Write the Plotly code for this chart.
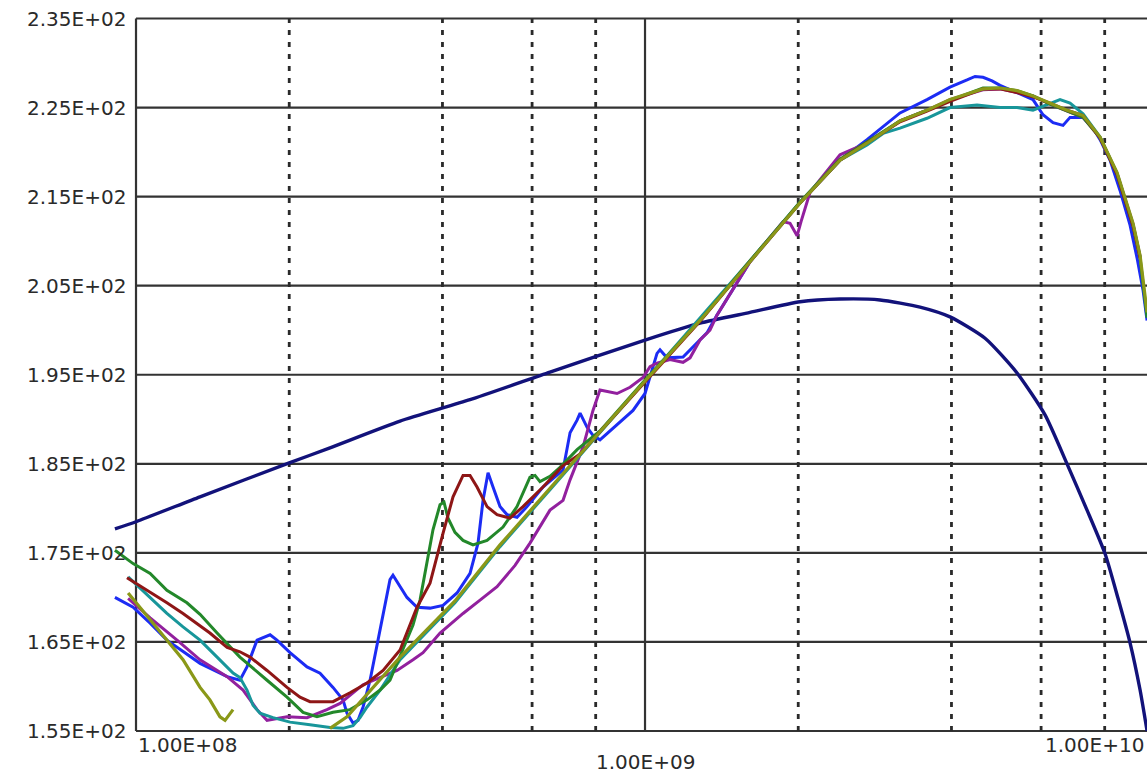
import math
import plotly.graph_objects as go

# ---- axis ticks -----------------------------------------------------------
Y_TICKS = [155, 165, 175, 185, 195, 205, 215, 225, 235]
Y_TICK_TEXT = ["1.55E+02", "1.65E+02", "1.75E+02", "1.85E+02", "1.95E+02",
               "2.05E+02", "2.15E+02", "2.25E+02", "2.35E+02"]
X_DECADES = [1e8, 1e9, 1e10]
X_DECADE_TEXT = ["1.00E+08", "1.00E+09", "1.00E+10"]
X_SUBGRID = [2e8, 4e8, 6e8, 8e8, 2e9, 4e9, 6e9, 8e9]

# ---- series (frequency in MHz, value) -------------------------------------
navy_f = [90.9, 100, 133.6, 200, 240.5, 330.2, 453.1, 650.6, 1000, 1282.6, 1608.0,
          2016.9, 2416.0, 2895, 3469.6, 3973.7, 4656, 5381.4, 6107.8, 6746.8,
          7385.9, 8013.1, 8497, 8972.2, 9389, 9690.3]
navy_v = [177.7, 178.5, 181.3, 185.1, 186.8, 189.8, 192.2, 195.3, 198.9, 200.8, 202.0,
          203.2, 203.5, 203.4, 202.6, 201.5, 199.1, 195.2, 190.5, 185.0,
          179.8, 174.9, 169.9, 164.9, 159.6, 155.0]

blue_f = [90.9, 98.7, 106.6, 115.0, 133.6, 151.0, 160.0, 165.2, 172.9, 183.4, 189.2,
          200.7, 216.8, 229.9, 243.8, 255.1, 259.7, 266.9, 273.0, 279.3, 288.3,
          301.7, 315.5, 319.8, 330.2, 340.7, 356.5, 378.1, 401.0, 427.2, 453.1,
          469.8, 480.6, 491.6, 502.8, 518.9, 535.6, 560.4, 586.4, 630.3, 690.2,
          712.4, 735.4, 745.5, 769.5, 790.3, 815.7, 881.0, 947.2, 1000, 1055.8,
          1070.2, 1104.6, 1187.7, 1323.3, 1384.7, 1608, 2016.9, 2416, 2729.8,
          3169.6, 3580.9, 3973.7, 4292.1, 4450.2, 4613.2, 4805.8, 4983, 5381.4,
          5783.6, 6050.9, 6332.6, 6625.2, 6839.1, 7252.8, 7588.6, 7834.3, 8195.1,
          8574.3, 8972.2, 9262.2, 9514.7, 9690.3]
blue_v = [170.0, 168.9, 167.1, 165.2, 162.6, 161.1, 160.7, 162.2, 165.2, 165.8, 165.2,
          163.8, 162.2, 161.5, 159.9, 158.5, 157.0, 155.9, 156.2, 157.7, 160.7,
          166.3, 172.0, 172.5, 171.2, 170.0, 168.9, 168.8, 169.1, 170.5, 172.7,
          176.1, 180.9, 184.0, 182.4, 180.2, 179.3, 179.0, 180.2, 182.4, 184.3,
          188.5, 189.9, 190.7, 189.1, 188.2, 187.7, 189.4, 191.0, 192.9, 197.4,
          197.8, 196.9, 197.0, 199.7, 201.7, 207.7, 214.3, 219.1, 221.4,
          224.4, 225.9, 227.3, 228.1, 228.5, 228.4, 228.0, 227.5, 226.7,
          225.9, 224.2, 223.3, 223.0, 223.9, 223.9, 222.7, 221.4, 219.1,
          215.7, 211.8, 208.1, 204.5, 201.1]

purple_f = [96.5, 106.6, 120.4, 133.6, 151.0, 162.3, 172.9, 180.9, 198.0, 216.8, 237.2,
            251.7, 279.3, 301.7, 325.7, 350.1, 366.3, 395.6, 439.0, 474.1, 512.0,
            555.4, 594.3, 650.6, 690.2, 712.4, 755.7, 790.3, 815.7, 881.0, 934.4,
            991.0, 1022.9, 1055.8, 1119.7, 1187.7, 1225.9, 1282.6, 1341.5, 1384.7,
            1608, 1866.9, 1927.1, 1989.6, 2025.5, 2109.6, 2416, 2527.7, 2729.8,
            3169.6, 3580.9, 3973.7, 4613.2, 4983, 5381.4, 5783.6, 6246.6, 6746.8,
            7252.8, 7834.3, 8460.2, 9095.1, 9389]
purple_v = [169.9, 167.7, 165.2, 163.0, 161.1, 159.6, 157.4, 156.2, 156.6, 156.5, 157.4,
            158.1, 160.2, 161.0, 161.8, 163.0, 163.8, 166.0, 168.2, 169.7, 171.2,
            173.6, 176.1, 179.8, 180.9, 183.2, 186.9, 191.0, 193.3, 192.9, 193.6,
            194.7, 195.9, 196.3, 196.7, 196.4, 196.9, 198.9, 200.0, 201.7,
            207.7, 212.2, 212.0, 210.6, 212.2, 215.5, 219.7, 220.2, 221.0,
            223.5, 224.7, 225.9, 227.0, 227.1, 226.7, 226.3, 225.4, 224.6,
            223.9, 221.6, 217.6, 211.9, 208.3]

teal_f = [96.5, 106.6, 115.0, 123.7, 133.6, 144.3, 155.1, 160.0, 165.2, 169.8, 175.2,
          185.9, 200.7, 219.7, 240.5, 255.1, 266.9, 275.5, 284.4, 301.7, 330.2,
          423.3, 518.9, 650.6, 815.7, 1000, 1282.6, 1608, 2016.9, 2416, 2729.8,
          2935.1, 3169.6, 3580.9, 3973.7, 4490.4, 4983, 5381.4, 5783.6, 6246.6,
          6536.6, 6839.1, 7252.8, 7834.3, 8460.2, 9095.1, 9389]
teal_v = [172.3, 170.0, 168.2, 166.7, 165.2, 163.3, 161.5, 161.0, 159.6, 157.9, 157.0,
          156.5, 156.0, 155.7, 155.4, 155.3, 155.6, 156.5, 157.7, 159.6, 163.0,
          169.4, 175.7, 182.1, 188.5, 194.3, 201.3, 207.8, 214.4, 219.1, 220.8,
          222.1, 222.7, 223.8, 225.0, 225.3, 225.0, 225.0, 224.7, 225.5,
          225.9, 225.5, 224.3, 221.7, 217.6, 211.8, 208.2]

green_f = [90.9, 98.7, 106.6, 115.0, 125.9, 133.6, 144.3, 160.0, 180.9, 198.0, 212.9,
           226.8, 243.8, 263.3, 284.4, 301.7, 315.5, 330.2, 350.1, 361.4, 373.0,
           383.2, 395.6, 402.8, 410.2, 423.3, 439.0, 459.3, 489.4, 526.0, 560.4,
           594.3, 608.0, 621.8, 650.6, 680.8, 735.4, 815.7, 1000, 1282.6, 1608,
           2016.9, 2416, 2729.8, 3169.6, 3580.9, 3973.7, 4613.2, 4983, 5381.4,
           5783.6, 6246.6, 6746.8, 7252.8, 7834.3, 8460.2, 9095.1, 9389, 9690.3]
green_v = [175.3, 173.8, 172.7, 170.8, 169.4, 168.1, 166.0, 163.3, 160.7, 158.8, 157.1,
           156.6, 157.1, 157.4, 158.5, 159.6, 160.7, 163.5, 166.9, 169.7, 173.8,
           177.6, 180.4, 180.7, 178.9, 177.3, 176.4, 175.9, 176.4, 177.9, 180.2,
           183.5, 183.7, 183.0, 183.6, 184.6, 186.6, 188.7, 194.4, 201.1, 207.8,
           214.4, 219.2, 221.1, 223.5, 224.7, 225.8, 227.2, 227.2, 226.9,
           226.3, 225.4, 224.6, 223.9, 221.6, 217.5, 211.7, 208.1, 201.4]

red_f = [96.0, 106.6, 115.0, 123.7, 139.7, 151.0, 160.0, 167.5, 180.9, 198.0, 210.0,
         219.7, 243.8, 263.3, 284.4, 305.8, 330.2, 356.5, 378.1, 401.0, 419.6,
         439.0, 453.1, 467.7, 489.4, 512.0, 543.0, 575.8, 630.3, 690.2, 745.5,
         815.7, 1000, 1282.6, 1608, 2016.9, 2416, 2729.8, 3169.6, 3580.9, 3973.7,
         4613.2, 4983, 5381.4, 5783.6, 6246.6, 6746.8, 7252.8, 7834.3, 8460.2,
         9095.1, 9389]
red_v = [172.2, 170.6, 169.4, 168.2, 166.0, 164.4, 163.9, 163.3, 161.8, 159.9, 158.8,
         158.3, 158.3, 159.3, 160.4, 161.8, 164.1, 168.9, 171.6, 177.2, 181.3,
         183.7, 183.7, 182.4, 180.2, 179.3, 178.9, 180.2, 182.4, 184.8, 186.1,
         188.6, 194.2, 201.0, 207.7, 214.3, 219.1, 221.0, 223.4, 224.6, 225.7,
         227.1, 227.1, 226.7, 226.2, 225.5, 224.7, 224.1, 221.6, 217.5,
         211.7, 208.1]

olive_f = [96.5, 106.6, 115.0, 123.7, 133.6, 139.7, 146.2, 149.6, 155.1, None,
           240.5, 259.7, 330.2, 423.3, 518.9, 650.6, 815.7, 1000, 1282.6, 1608,
           2016.9, 2416, 2729.8, 3169.6, 3580.9, 3973.7, 4613.2, 4983, 5381.4,
           5783.6, 6246.6, 6746.8, 7252.8, 7834.3, 8460.2, 9095.1, 9389, 9690.3]
olive_v = [170.5, 167.5, 165.2, 163.0, 159.9, 158.5, 156.6, 156.2, 157.4, None,
           155.3, 156.6, 163.3, 169.6, 175.9, 182.3, 188.6, 194.3, 201.1, 207.7,
           214.3, 219.1, 221.0, 223.5, 224.7, 225.9, 227.1, 227.2, 226.9,
           226.3, 225.5, 224.7, 224.1, 221.7, 217.7, 212.0, 208.4, 202.0]

# (freq, value, colour, width, shape)
SERIES = [
    (navy_f, navy_v, "#12127a", 3.4, "spline"),
    (blue_f, blue_v, "#1c2cf4", 3.0, "linear"),
    (purple_f, purple_v, "#92209e", 3.0, "linear"),
    (teal_f, teal_v, "#18969a", 3.0, "linear"),
    (green_f, green_v, "#23882a", 3.0, "linear"),
    (red_f, red_v, "#8e1616", 3.0, "linear"),
    (olive_f, olive_v, "#8a9818", 3.2, "linear"),
]

GRID = "#333333"
FONT = dict(family="DejaVu Sans", size=20, color="#2a2a2a")

fig = go.Figure()


def mhz(values):
    return [None if v is None else v * 1e6 for v in values]


# Horizontal rules (including top and bottom frame)
hx, hy = [], []
for t in Y_TICKS:
    hx += [X_DECADES[0], 2e10, None]
    hy += [t, t, None]
fig.add_trace(go.Scatter(x=hx, y=hy, mode="lines",
                         line=dict(color=GRID, width=2.2), hoverinfo="skip"))

# Decade verticals (left frame at 1e8, solid line at 1e9)
vx, vy = [], []
for d in X_DECADES:
    vx += [d, d, None]
    vy += [Y_TICKS[0], Y_TICKS[-1], None]
fig.add_trace(go.Scatter(x=vx, y=vy, mode="lines",
                         line=dict(color=GRID, width=2.2), hoverinfo="skip"))

# Dashed intermediate verticals
dx, dy = [], []
for d in X_SUBGRID:
    dx += [d, d, None]
    dy += [Y_TICKS[0], Y_TICKS[-1], None]
fig.add_trace(go.Scatter(x=dx, y=dy, mode="lines",
                         line=dict(color="#2a2a2a", width=2.8, dash="5px,7px"),
                         hoverinfo="skip"))

for f, v, color, w, shape in SERIES:
    fig.add_trace(go.Scatter(x=mhz(f), y=v, mode="lines", connectgaps=False,
                             line=dict(color=color, width=w, shape=shape,
                                       smoothing=0.6 if shape == "spline" else None),
                             hoverinfo="skip"))

annotations = []
for t, txt in zip(Y_TICKS, Y_TICK_TEXT):
    annotations.append(dict(x=8, y=t, xref="x", yref="y", text=txt,
                            showarrow=False, xanchor="right", yanchor="middle",
                            xshift=-8, font=FONT))

# Decade labels: first left-aligned, middle centred and lowered,
# last right-aligned against the right edge of the page
x_min, x_max = 7.7328, 9.9862
label_pos = [(X_DECADES[0], "left", -14, 0),
             (X_DECADES[1], "center", -31, 0),
             (None, "right", -14, -1)]
for (d, anc, sy, sx), txt in zip(label_pos, X_DECADE_TEXT):
    frac = 1.0 if d is None else (math.log10(d) - x_min) / (x_max - x_min)
    annotations.append(dict(x=frac, y=Y_TICKS[0], xref="paper", yref="y",
                            text=txt, showarrow=False, xanchor=anc,
                            yanchor="middle", yshift=sy, xshift=sx, font=FONT))

fig.update_layout(
    width=1147, height=776,
    margin=dict(l=0, r=0, t=0, b=0),
    paper_bgcolor="white", plot_bgcolor="white",
    showlegend=False,
    xaxis=dict(type="log", range=[x_min, x_max], visible=False),
    yaxis=dict(range=[149.95, 237.08], visible=False),
    annotations=annotations,
)

fig.write_html("out.html")
